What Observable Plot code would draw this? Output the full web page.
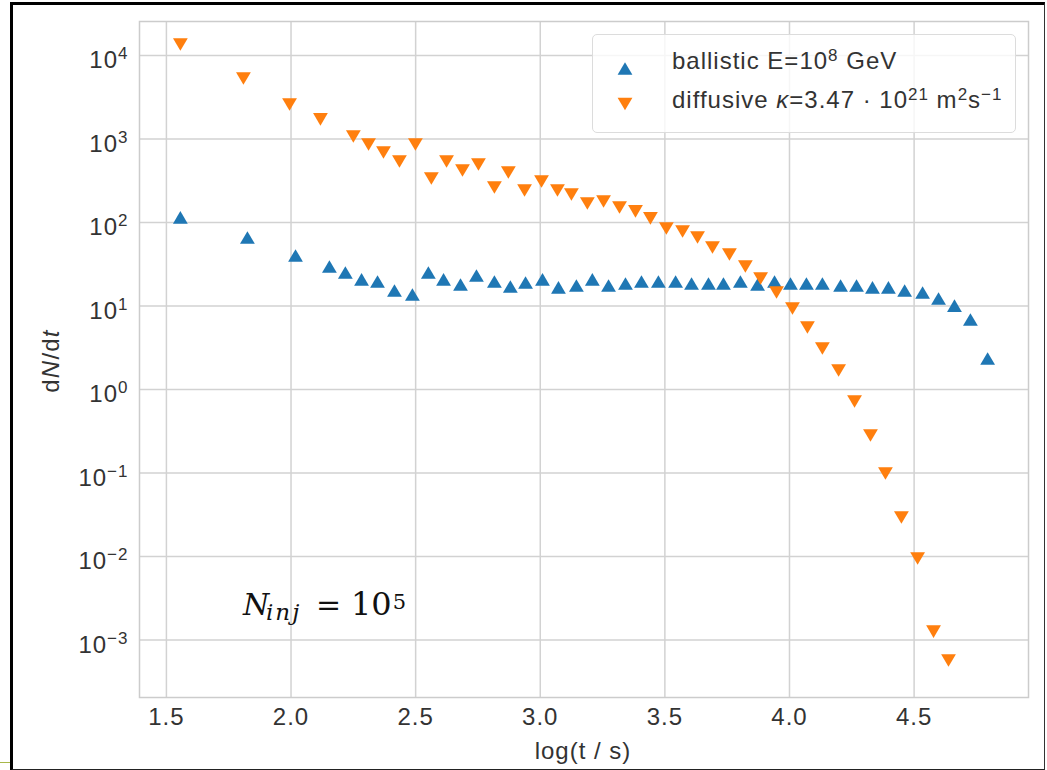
<!DOCTYPE html>
<html><head><meta charset="utf-8">
<script src="https://cdn.jsdelivr.net/npm/d3@7"></script>
<script src="https://cdn.jsdelivr.net/npm/@observablehq/plot@0.6"></script>
<style>
html,body{margin:0;padding:0;background:#fff;}
#wrap{position:relative;width:1047px;height:770px;overflow:hidden;font-family:"Liberation Sans",Arial,sans-serif;color:#333;}
#wrap svg.plot{position:absolute;left:0;top:0;}
.abs{position:absolute;white-space:nowrap;line-height:24px;font-size:24px;letter-spacing:1px;}
.sup{font-size:17px;position:relative;top:-8px;}
#legend{position:absolute;left:592px;top:34px;width:424px;height:99px;box-sizing:border-box;border:1.5px solid #dcdcdc;border-radius:5px;background:rgba(255,255,255,0.8);}
.ann{position:absolute;white-space:nowrap;font-family:"DejaVu Serif",serif;color:#111;line-height:30px;}
.ann .s5{font-size:21px;position:relative;top:-6px;margin-left:1px;}
#frame{position:absolute;left:10px;top:2px;width:1031px;height:764px;border-left:3px solid #000;border-top:3px solid #000;border-right:1.5px solid #333;border-bottom:2px solid #222;}
</style></head><body><div id="wrap"></div>
<script>
// ---- data ----
const ballisticT = [1.556,1.825,2.018,2.154,2.218,2.283,2.347,2.415,2.487,2.551,2.612,2.680,2.744,2.816,2.880,2.941,3.009,3.073,3.145,3.209,3.274,3.342,3.406,3.474,3.543,3.607,3.675,3.735,3.803,3.872,3.940,4.004,4.068,4.132,4.205,4.269,4.333,4.397,4.462,4.534,4.598,4.662,4.726,4.795];
const ballisticN = [115,66,40.3,29.7,25.2,20.8,19.6,15.3,13.7,25.2,20.8,18.1,23.2,19.6,17.1,19.1,20.8,16.7,17.6,20.8,17.6,18.6,19.6,19.6,19.6,18.6,18.6,18.6,19.6,18.1,19.6,18.6,18.6,18.6,17.6,17.6,16.7,16.7,15.3,14.5,12.3,10.1,6.89,2.35];
const diffusiveT = [1.556,1.809,1.994,2.118,2.250,2.311,2.371,2.435,2.499,2.563,2.624,2.688,2.752,2.816,2.872,2.937,3.005,3.069,3.125,3.189,3.254,3.318,3.382,3.442,3.506,3.571,3.631,3.691,3.759,3.823,3.884,3.948,4.012,4.072,4.132,4.197,4.261,4.325,4.385,4.449,4.514,4.578,4.638];
const diffusiveN = [13550,5300,2590,1715,1072,859,689,538,859,336,538,420,495,262,397,242,310,242,216,169,178,151,136,112,84.8,78,66,50.2,41.4,29.7,21.3,14.5,9.33,5.53,3.10,1.69,0.718,0.281,0.0986,0.0293,0.00946,0.00126,0.000568];
const xTicks = [1.5,2.0,2.5,3.0,3.5,4.0,4.5];
const yTicks = [1e-3,1e-2,1e-1,1,10,100,1000,10000];
const xLabel = "log(t / s)";
const colors = {ballistic:"#1f77b4", diffusive:"#ff7f0e"};

const ballistic = ballisticT.map((t,i)=>({t, n:ballisticN[i]}));
const diffusive = diffusiveT.map((t,i)=>({t, n:diffusiveN[i]}));

const TW = 7.4, TH = 6.3;
const triUp = {draw(ctx){ctx.moveTo(0,-TH);ctx.lineTo(TW,TH);ctx.lineTo(-TW,TH);ctx.closePath();}};
const triDown = {draw(ctx){ctx.moveTo(0,TH);ctx.lineTo(TW,-TH);ctx.lineTo(-TW,-TH);ctx.closePath();}};

const gridStyle = {stroke:"#d2d2d2", strokeOpacity:1, strokeWidth:1.5};
const chart = Plot.plot({
  width:1047, height:770,
  marginLeft:139, marginRight:19, marginTop:21, marginBottom:73,
  style:{background:"transparent", fontFamily:"'Liberation Sans', Arial, sans-serif", fontSize:"24px", letterSpacing:"1px", color:"#333"},
  x:{domain:[1.392,4.959], label:null},
  y:{type:"log", domain:[Math.pow(10,-3.689), Math.pow(10,4.407)], label:null},
  marks:[
    Plot.gridX(xTicks, gridStyle),
    Plot.gridY(yTicks, gridStyle),
    Plot.frame({stroke:"#cccccc", strokeWidth:1.5}),
    Plot.axisX(xTicks, {tickSize:0, tickPadding:10, tickFormat:d=>d.toFixed(1), label:null}),
    Plot.axisY(yTicks, {tickSize:0, tickPadding:11, tickFormat:d=>String(Math.round(Math.log10(d))), label:null}),
    Plot.dot(ballistic, {x:"t", y:"n", symbol:triUp, fill:colors.ballistic, stroke:"none"}),
    Plot.dot(diffusive, {x:"t", y:"n", symbol:triDown, fill:colors.diffusive, stroke:"none"})
  ]
});
chart.classList.add("plot");
const wrap = document.getElementById("wrap");
wrap.appendChild(chart);

// superscript y tick labels 10^k
const ns = "http://www.w3.org/2000/svg";
chart.querySelectorAll('g[aria-label="y-axis tick label"] text').forEach(t=>{
  const e = t.textContent.trim().replace("-", "\u2212");
  t.textContent = "";
  const a = document.createElementNS(ns,"tspan"); a.textContent="10"; a.setAttribute("dy","5.3");
  const b = document.createElementNS(ns,"tspan"); b.textContent=e; b.setAttribute("dy","-9"); b.setAttribute("font-size","17");
  t.appendChild(a); t.appendChild(b);
});

function add(html){ wrap.insertAdjacentHTML("beforeend", html); }
// axis labels
add(`<div class="abs" style="left:583px;top:739px;transform:translateX(-50%);">${xLabel}</div>`);
add(`<div class="abs" style="left:51px;top:361px;letter-spacing:1.2px;transform:translate(-50%,-50%) rotate(-90deg);">d<i>N</i>/d<i>t</i></div>`);
// legend
add(`<div id="legend"></div>`);
add(`<svg style="position:absolute;left:0;top:0;overflow:visible" width="1" height="1">
  <path transform="translate(625,68.5)" d="M0,${-TH}L${TW},${TH}L${-TW},${TH}Z" fill="${colors.ballistic}"/>
  <path transform="translate(625,104)" d="M0,${TH}L${TW},${-TH}L${-TW},${-TH}Z" fill="${colors.diffusive}"/></svg>`);
add(`<div class="abs" style="left:672px;top:49px;">ballistic E=10<span class="sup">8</span> GeV</div>`);
add(`<div class="abs" style="left:672px;top:88px;">diffusive <i>κ</i>=3.47 · 10<span class="sup">21</span> m<span class="sup">2</span>s<span class="sup">−1</span></div>`);
// annotation
add(`<div class="ann" style="left:243px;top:590px;font-size:30px;"><i>N</i></div>`);
add(`<div class="ann" style="left:266px;top:597px;font-size:23px;letter-spacing:2px;"><i>inj</i></div>`);
add(`<div class="ann" style="left:316px;top:590px;font-size:30px;">=</div>`);
add(`<div class="ann" style="left:351px;top:589px;font-size:32px;">10<span class="s5">5</span></div>`);
// outer frame
add(`<div id="frame"></div>`);
add(`<div style="position:absolute;left:0;top:762px;width:10px;height:1px;background:#a8b84a;"></div>`);
</script></body></html>
